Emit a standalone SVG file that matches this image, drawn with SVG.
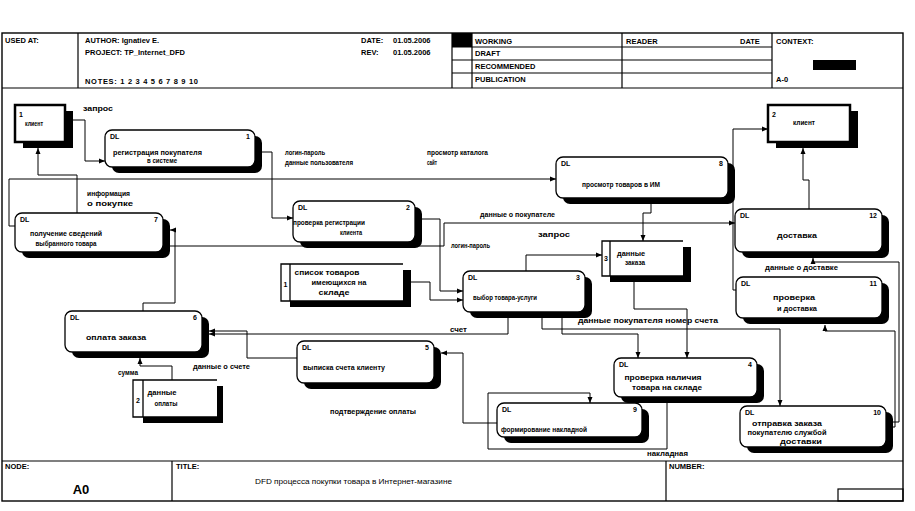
<svg xmlns="http://www.w3.org/2000/svg" width="915" height="511" viewBox="0 0 915 511">
<defs>
<style>
.t{font-family:"Liberation Sans",Arial,sans-serif;font-weight:bold;font-size:7px;fill:#000}
.h{font-size:7.5px}
.n{font-weight:normal}
.m{text-anchor:middle}
.e{text-anchor:end}
.fr{fill:none;stroke:#000;stroke-width:1.4}
.ln{fill:none;stroke:#000;stroke-width:1.2}
.box{fill:#fff;stroke:#000;stroke-width:1.3}
.ds{fill:none;stroke:#000;stroke-width:1.3}
.sh{fill:#000}
.ext{fill:#fff;stroke:#000;stroke-width:2.5}
.c{fill:none;stroke:#000;stroke-width:1;stroke-linejoin:round;marker-end:url(#a)}
</style>
<marker id="a" markerWidth="7" markerHeight="6" refX="6" refY="3" orient="auto" markerUnits="userSpaceOnUse"><path d="M0,0.5 L6,3 L0,5.5z" fill="#000"/></marker>
</defs>
<rect width="915" height="511" fill="#fff"/>

<g id="frame">
<rect class="fr" x="2" y="33" width="901" height="468"/>
<line class="ln" x1="2" y1="88" x2="903" y2="88"/>
<line class="ln" x1="78" y1="33" x2="78" y2="88"/>
<line class="ln" x1="452" y1="33" x2="452" y2="88"/>
<line class="ln" x1="472" y1="33" x2="472" y2="88"/>
<line class="ln" x1="622" y1="33" x2="622" y2="88"/>
<line class="ln" x1="772" y1="33" x2="772" y2="88"/>
<line class="ln" x1="452" y1="47" x2="772" y2="47"/>
<line class="ln" x1="452" y1="60" x2="772" y2="60"/>
<line class="ln" x1="452" y1="73" x2="772" y2="73"/>
<rect x="452" y="33" width="20" height="14" fill="#000"/>
<rect x="813" y="60" width="43" height="10" fill="#000"/>
<text class="t h" x="5" y="43">USED AT:</text>
<text class="t h" x="85" y="43">AUTHOR: Ignatiev E.</text>
<text class="t h" x="85" y="55">PROJECT: TP_Internet_DFD</text>
<text class="t h" x="85" y="84" textLength="113">NOTES: 1 2 3 4 5 6 7 8 9 10</text>
<text class="t h" x="361" y="43">DATE:</text>
<text class="t h" x="393" y="43">01.05.2006</text>
<text class="t h" x="361" y="55">REV:</text>
<text class="t h" x="393" y="55">01.05.2006</text>
<text class="t h" x="475" y="43.5">WORKING</text>
<text class="t h" x="475" y="56">DRAFT</text>
<text class="t h" x="475" y="68.5">RECOMMENDED</text>
<text class="t h" x="475" y="81.5">PUBLICATION</text>
<text class="t h" x="626" y="43.5">READER</text>
<text class="t h" x="740" y="43.5">DATE</text>
<text class="t h" x="776" y="43.5">CONTEXT:</text>
<text class="t h" x="776" y="81.5">A-0</text>
<line class="ln" x1="2" y1="461" x2="903" y2="461"/>
<line class="ln" x1="172" y1="461" x2="172" y2="501"/>
<line class="ln" x1="666" y1="461" x2="666" y2="501"/>
<rect class="ln" x="838" y="489" width="65" height="12"/>
<text class="t h" x="5" y="469">NODE:</text>
<text class="t h" x="176" y="469">TITLE:</text>
<text class="t h" x="669" y="469">NUMBER:</text>
<text class="t m" x="81" y="494" style="font-size:13px">A0</text>
<text class="t n" x="255" y="484" textLength="197" lengthAdjust="spacingAndGlyphs">DFD процесса покупки товара в Интернет-магазине</text>
</g>

<g id="e1">
<rect class="sh" x="23" y="111" width="50" height="37"/>
<rect class="ext" x="15" y="105" width="50" height="37"/>
<text class="t" x="19" y="116.5">1</text>
<text class="t" x="25" y="125.5" textLength="18" lengthAdjust="spacingAndGlyphs">клиент</text>
</g>
<g id="e2">
<rect class="sh" x="776" y="111" width="82" height="37"/>
<rect class="ext" x="768" y="105" width="82" height="37"/>
<text class="t" x="772" y="116.5">2</text>
<text class="t m" x="804" y="124.5" textLength="22" lengthAdjust="spacingAndGlyphs">клиент</text>
</g>

<g id="p1">
<rect class="sh" x="112" y="136" width="150" height="37" rx="7"/>
<rect class="box" x="105" y="130" width="150" height="37" rx="7"/>
<text class="t" x="110" y="139">DL</text><text class="t e" x="250" y="139">1</text>
<text class="t m" x="157.5" y="154.5" textLength="89" lengthAdjust="spacingAndGlyphs">регистрация покупателя</text>
<text class="t m" x="162" y="162.5" textLength="30" lengthAdjust="spacingAndGlyphs">в системе</text>
</g>
<g id="p7">
<rect class="sh" x="22" y="219" width="148" height="39" rx="7"/>
<rect class="box" x="15" y="213" width="148" height="39" rx="7"/>
<text class="t" x="20" y="222">DL</text><text class="t e" x="158" y="222">7</text>
<text class="t m" x="66" y="235.5" textLength="72" lengthAdjust="spacingAndGlyphs">получение сведений</text>
<text class="t m" x="66" y="245.5" textLength="61" lengthAdjust="spacingAndGlyphs">выбранного товара</text>
</g>
<g id="p2">
<rect class="sh" x="300" y="207" width="122" height="41" rx="7"/>
<rect class="box" x="293" y="201" width="122" height="41" rx="7"/>
<text class="t" x="298" y="210">DL</text><text class="t e" x="410" y="210">2</text>
<text class="t m" x="329" y="224.5" textLength="72" lengthAdjust="spacingAndGlyphs">проверка регистрации</text>
<text class="t m" x="351" y="234.5" textLength="22" lengthAdjust="spacingAndGlyphs">клиента</text>
</g>
<g id="p8">
<rect class="sh" x="563" y="163" width="172" height="41" rx="7"/>
<rect class="box" x="556" y="157" width="172" height="41" rx="7"/>
<text class="t" x="561" y="166">DL</text><text class="t e" x="723" y="166">8</text>
<text class="t m" x="621" y="186.5" textLength="78" lengthAdjust="spacingAndGlyphs">просмотр товаров в ИМ</text>
</g>
<g id="p12">
<rect class="sh" x="742" y="215" width="147" height="43" rx="7"/>
<rect class="box" x="735" y="209" width="147" height="43" rx="7"/>
<text class="t" x="740" y="218">DL</text><text class="t e" x="877" y="218">12</text>
<text class="t m" x="797" y="237.5" textLength="40" lengthAdjust="spacingAndGlyphs">доставка</text>
</g>
<g id="p11">
<rect class="sh" x="743" y="283" width="146" height="41" rx="7"/>
<rect class="box" x="736" y="277" width="146" height="41" rx="7"/>
<text class="t" x="741" y="286">DL</text><text class="t e" x="877" y="286">11</text>
<text class="t m" x="794" y="299.5" textLength="42" lengthAdjust="spacingAndGlyphs">проверка</text>
<text class="t m" x="797" y="310.5" textLength="40" lengthAdjust="spacingAndGlyphs">и доставка</text>
</g>
<g id="p3">
<rect class="sh" x="470" y="277" width="122" height="41" rx="7"/>
<rect class="box" x="463" y="271" width="122" height="41" rx="7"/>
<text class="t" x="468" y="280">DL</text><text class="t e" x="580" y="280">3</text>
<text class="t m" x="505" y="299.5" textLength="64" lengthAdjust="spacingAndGlyphs">выбор товара-услуги</text>
</g>
<g id="p6">
<rect class="sh" x="72" y="317" width="137" height="41" rx="7"/>
<rect class="box" x="65" y="311" width="137" height="41" rx="7"/>
<text class="t" x="70" y="320">DL</text><text class="t e" x="197" y="320">6</text>
<text class="t m" x="116" y="339.5" textLength="60" lengthAdjust="spacingAndGlyphs">оплата заказа</text>
</g>
<g id="p5">
<rect class="sh" x="304" y="347" width="137" height="42" rx="7"/>
<rect class="box" x="297" y="341" width="137" height="42" rx="7"/>
<text class="t" x="302" y="350">DL</text><text class="t e" x="429" y="350">5</text>
<text class="t m" x="344" y="369.5" textLength="82" lengthAdjust="spacingAndGlyphs">выписка счета клиенту</text>
</g>
<g id="p4">
<rect class="sh" x="621" y="364" width="143" height="39" rx="7"/>
<rect class="box" x="614" y="358" width="143" height="39" rx="7"/>
<text class="t" x="619" y="367">DL</text><text class="t e" x="752" y="367">4</text>
<text class="t m" x="663" y="379.5" textLength="77" lengthAdjust="spacingAndGlyphs">проверка наличия</text>
<text class="t m" x="667" y="389.5" textLength="70" lengthAdjust="spacingAndGlyphs">товара на складе</text>
</g>
<g id="p9">
<rect class="sh" x="504" y="409" width="145" height="34" rx="7"/>
<rect class="box" x="497" y="403" width="145" height="34" rx="7"/>
<text class="t" x="502" y="412">DL</text><text class="t e" x="637" y="412">9</text>
<text class="t m" x="544" y="431.5" textLength="86" lengthAdjust="spacingAndGlyphs">формирование накладной</text>
</g>
<g id="p10">
<rect class="sh" x="747" y="412" width="146" height="41" rx="7"/>
<rect class="box" x="740" y="406" width="146" height="41" rx="7"/>
<text class="t" x="745" y="415">DL</text><text class="t e" x="881" y="415">10</text>
<text class="t m" x="787" y="425.5" textLength="70" lengthAdjust="spacingAndGlyphs">отправка заказа</text>
<text class="t m" x="787" y="434.5" textLength="79" lengthAdjust="spacingAndGlyphs">покупателю службой</text>
<text class="t m" x="801" y="443.5" textLength="42" lengthAdjust="spacingAndGlyphs">доставки</text>
</g>

<g id="d1">
<path class="sh" d="M403,270H411V307H290V301H403z"/>
<path class="ds" d="M403,264H281V301H403M290,264V301"/>
<text class="t m" x="285.5" y="286.5">1</text>
<text class="t m" x="327" y="274.5" textLength="65" lengthAdjust="spacingAndGlyphs">список товаров</text>
<text class="t m" x="339" y="284.5" textLength="55" lengthAdjust="spacingAndGlyphs">имеющихся на</text>
<text class="t m" x="334" y="294.5" textLength="31" lengthAdjust="spacingAndGlyphs">складе</text>
</g>
<g id="d3">
<path class="sh" d="M683,247H691V282H610V276H683z"/>
<path class="ds" d="M683,241H602V276H683M610,241V276"/>
<text class="t m" x="606" y="260.5">3</text>
<text class="t m" x="631" y="255.5" textLength="28" lengthAdjust="spacingAndGlyphs">данные</text>
<text class="t m" x="635" y="264.5" textLength="20" lengthAdjust="spacingAndGlyphs">заказа</text>
</g>
<g id="d2">
<path class="sh" d="M217,386H223V423H143V417H217z"/>
<path class="ds" d="M217,380H133V417H217M143,380V417"/>
<text class="t m" x="138" y="402.5">2</text>
<text class="t m" x="162" y="394.5" textLength="29" lengthAdjust="spacingAndGlyphs">данные</text>
<text class="t m" x="166" y="405.5" textLength="23" lengthAdjust="spacingAndGlyphs">оплаты</text>
</g>

<g id="connectors">
<path class="c" d="M73,120H85V161H105"/>
<path class="c" d="M262,152H272V218H293"/>
<path class="c" d="M77,213V175H38V148"/>
<path class="c" d="M15,226H9V179H556"/>
<path class="c" d="M170,246H444V223H735"/>
<path class="c" d="M422,219H440V291H463"/>
<path class="c" d="M411,282H430V300H463"/>
<path class="c" d="M526,271V255H602"/>
<path class="c" d="M651,204V213H643V241"/>
<path class="c" d="M736,290H733V129H768"/>
<path class="c" d="M809,209V180H803V148"/>
<path class="c" d="M893,422H899V262H813V258"/>
<path class="c" d="M893,427H895V331H825V325"/>
<path class="c" d="M542,312V329H780V406"/>
<path class="c" d="M562,312V334H638V358"/>
<path class="c" d="M634,282V309H687V358"/>
<path class="c" d="M508,312V334H209"/>
<path class="c" d="M297,358H247V331H209"/>
<path class="c" d="M172,380V366H140V358"/>
<path class="c" d="M143,311V303H175V230H170"/>
<path class="c" d="M497,423H463V353H441"/>
<path class="c" d="M667,403V449H488V393H590V403"/>
</g>

<g id="labels">
<text class="t" x="83" y="110.5" textLength="30" lengthAdjust="spacingAndGlyphs">запрос</text>
<text class="t" x="285" y="154.5" textLength="40" lengthAdjust="spacingAndGlyphs">логин-пароль</text>
<text class="t" x="285" y="165" textLength="68" lengthAdjust="spacingAndGlyphs">данные пользователя</text>
<text class="t" x="427" y="154.5" textLength="61" lengthAdjust="spacingAndGlyphs">просмотр каталога</text>
<text class="t" x="427" y="165" textLength="10" lengthAdjust="spacingAndGlyphs">сайт</text>
<text class="t" x="87" y="196" textLength="43" lengthAdjust="spacingAndGlyphs">информация</text>
<text class="t" x="87" y="205.5" textLength="46" lengthAdjust="spacingAndGlyphs">о покупке</text>
<text class="t" x="480" y="216.5" textLength="75" lengthAdjust="spacingAndGlyphs">данные о покупателе</text>
<text class="t" x="538" y="236.5" textLength="32" lengthAdjust="spacingAndGlyphs">запрос</text>
<text class="t" x="451" y="247.5" textLength="39" lengthAdjust="spacingAndGlyphs">логин-пароль</text>
<text class="t" x="765" y="269.5" textLength="73" lengthAdjust="spacingAndGlyphs">данные о доставке</text>
<text class="t" x="578" y="322.5" textLength="140" lengthAdjust="spacingAndGlyphs">данные покупателя номер счета</text>
<text class="t" x="450" y="332" textLength="17" lengthAdjust="spacingAndGlyphs">счет</text>
<text class="t" x="193" y="368.5" textLength="57" lengthAdjust="spacingAndGlyphs">данные о счете</text>
<text class="t" x="118" y="374.5" textLength="20" lengthAdjust="spacingAndGlyphs">сумма</text>
<text class="t" x="330" y="413.5" textLength="86" lengthAdjust="spacingAndGlyphs">подтверждение оплаты</text>
<text class="t" x="647" y="456" textLength="41" lengthAdjust="spacingAndGlyphs">накладная</text>
</g>
</svg>
